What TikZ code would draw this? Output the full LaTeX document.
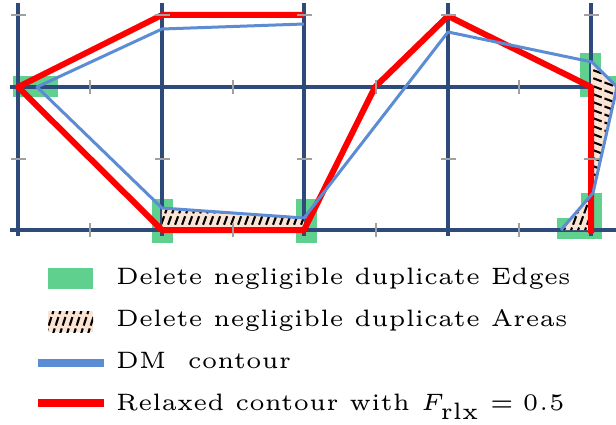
\documentclass[tikz,border=0pt]{standalone}
\usepackage{graphicx}
\definecolor{gridblue}{RGB}{46,74,122}
\definecolor{tickgray}{RGB}{160,160,160}
\definecolor{boxgreen}{RGB}{96,208,142}
\definecolor{dmblue}{RGB}{92,140,212}
\definecolor{rlxred}{RGB}{255,0,0}
\definecolor{peach}{RGB}{251,228,212}
\newcommand{\legfont}[1]{\scalebox{4.57}[4.75]{\fontsize{5}{6}\selectfont #1}}
\begin{document}
\begin{tikzpicture}[x=1pt,y=-1pt,
  gridline/.style={line width=3.5pt, draw=gridblue},
  tickmark/.style={line width=2.6pt, draw=tickgray},
  greenbox/.style={fill=boxgreen},
  dmline/.style={draw=dmblue, line width=3pt, line join=round},
  rlxline/.style={draw=rlxred, line width=6pt, line join=round},
  hatchfill/.style={fill=peach},
  hatchline/.style={line width=2.1pt, draw=black, dash pattern=on 9pt off 3pt},
  legtext/.style={anchor=base west, inner sep=0pt}
]
\useasboundingbox (0,0) rectangle (616,425);

% green boxes
\fill[greenbox] (13,76) rectangle (58,97);
\fill[greenbox] (152,199) rectangle (173,243);
\fill[greenbox] (296,199) rectangle (317,243);
\fill[greenbox] (580,53) rectangle (601,97);
\fill[greenbox] (601,76) rectangle (616,97);
\fill[greenbox] (581,193) rectangle (602,239);
\fill[greenbox] (557,218) rectangle (581,239);

% grid
\foreach \gx in {18,162,304,448,591} \draw[gridline] (\gx,3) -- (\gx,236);
\foreach \gy in {87,230} \draw[gridline] (10,\gy) -- (616,\gy);

% hatched areas
\coordinate (ha1) at (162,208);
\coordinate (ha2) at (304,218);
\coordinate (ha3) at (304,230);
\coordinate (ha4) at (162,230);
\fill[hatchfill] (ha1) -- (ha2) -- (ha3) -- (ha4) -- cycle;
\begin{scope}
  \clip (ha1) -- (ha2) -- (ha3) -- (ha4) -- cycle;
  \foreach \hx in {150,157,...,320} \draw[hatchline] (\hx,236) -- (\hx+13,200);
\end{scope}

\coordinate (hb1) at (591,62);
\coordinate (hb2) at (617,87);
\coordinate (hb3) at (593,193);
\coordinate (hb4) at (591,193);
\fill[hatchfill] (hb1) -- (hb2) -- (hb3) -- (hb4) -- cycle;
\begin{scope}
  \clip (hb1) -- (hb2) -- (hb3) -- (hb4) -- cycle;
  \foreach \hy in {50,58,...,210} \draw[hatchline] (582,\hy) -- (622,\hy+15);
\end{scope}

\coordinate (hc1) at (561,230);
\coordinate (hc2) at (593,193);
\coordinate (hc3) at (591,230);
\fill[hatchfill] (hc1) -- (hc2) -- (hc3) -- cycle;
\begin{scope}
  \clip (hc1) -- (hc2) -- (hc3) -- cycle;
  \foreach \hx in {555,562,...,600} \draw[hatchline] (\hx,236) -- (\hx+13,200);
\end{scope}

% relaxed contour (red)
\coordinate (r1) at (304,15);
\coordinate (r2) at (162,15);
\coordinate (r3) at (18,87);
\coordinate (r4) at (162,230);
\coordinate (r5) at (304,230);
\coordinate (r6) at (375,87);
\coordinate (r7) at (448,16);
\coordinate (r8) at (591,87);
\coordinate (r9) at (591,233);
\draw[rlxline] (r1) -- (r2) -- (r3) -- (r4) -- (r5) -- (r6) -- (r7) -- (r8) -- (r9);

% DM contour (blue)
\coordinate (b1) at (304,24);
\coordinate (b2) at (162,29);
\coordinate (b3) at (37,87);
\coordinate (b4) at (162,208);
\coordinate (b5) at (304,218);
\coordinate (b6) at (448,32);
\coordinate (b7) at (592,62);
\coordinate (b8) at (617,87);
\coordinate (b9) at (593,193);
\coordinate (b10) at (561,230);
\draw[dmline] (b1) -- (b2) -- (b3) -- (b4) -- (b5) -- (b6) -- (b7) -- (b8) -- (b9) -- (b10);

% ticks
\foreach \gx in {18,162,304,448,591} {
  \draw[tickmark] (\gx-7.5,15) -- (\gx+7.5,15);
  \draw[tickmark] (\gx-7.5,159) -- (\gx+7.5,159);
}
\foreach \tx in {90,233,376,519} {
  \draw[tickmark] (\tx,80) -- (\tx,94);
  \draw[tickmark] (\tx,223) -- (\tx,237);
}

% legend
\fill[greenbox] (48,268) rectangle (93,289);
\fill[hatchfill] (48,311) rectangle (93,332);
\begin{scope}
  \clip (48,311) rectangle (93,332);
  \foreach \hx in {38,45,...,98} \draw[hatchline] (\hx,337) -- (\hx+10,306);
\end{scope}
\coordinate (lb1) at (38,363);
\coordinate (lb2) at (104,363);
\draw[draw=dmblue, line width=8pt] (lb1) -- (lb2);
\coordinate (lr1) at (38,403);
\coordinate (lr2) at (104,403);
\draw[draw=rlxred, line width=8pt] (lr1) -- (lr2);

\node[legtext] (t1) at (116,284) {\legfont{Delete negligible duplicate Edges}};
\node[legtext] (t2) at (116,326.2) {\legfont{Delete negligible duplicate Areas}};
\node[legtext] (t3) at (116,368.5) {\legfont{DM\ \ contour}};
\node[legtext] (t4) at (116,410.7) {\legfont{Relaxed contour with $F_{\mathrm{rlx}}=0.5$}};
\end{tikzpicture}
\end{document}
